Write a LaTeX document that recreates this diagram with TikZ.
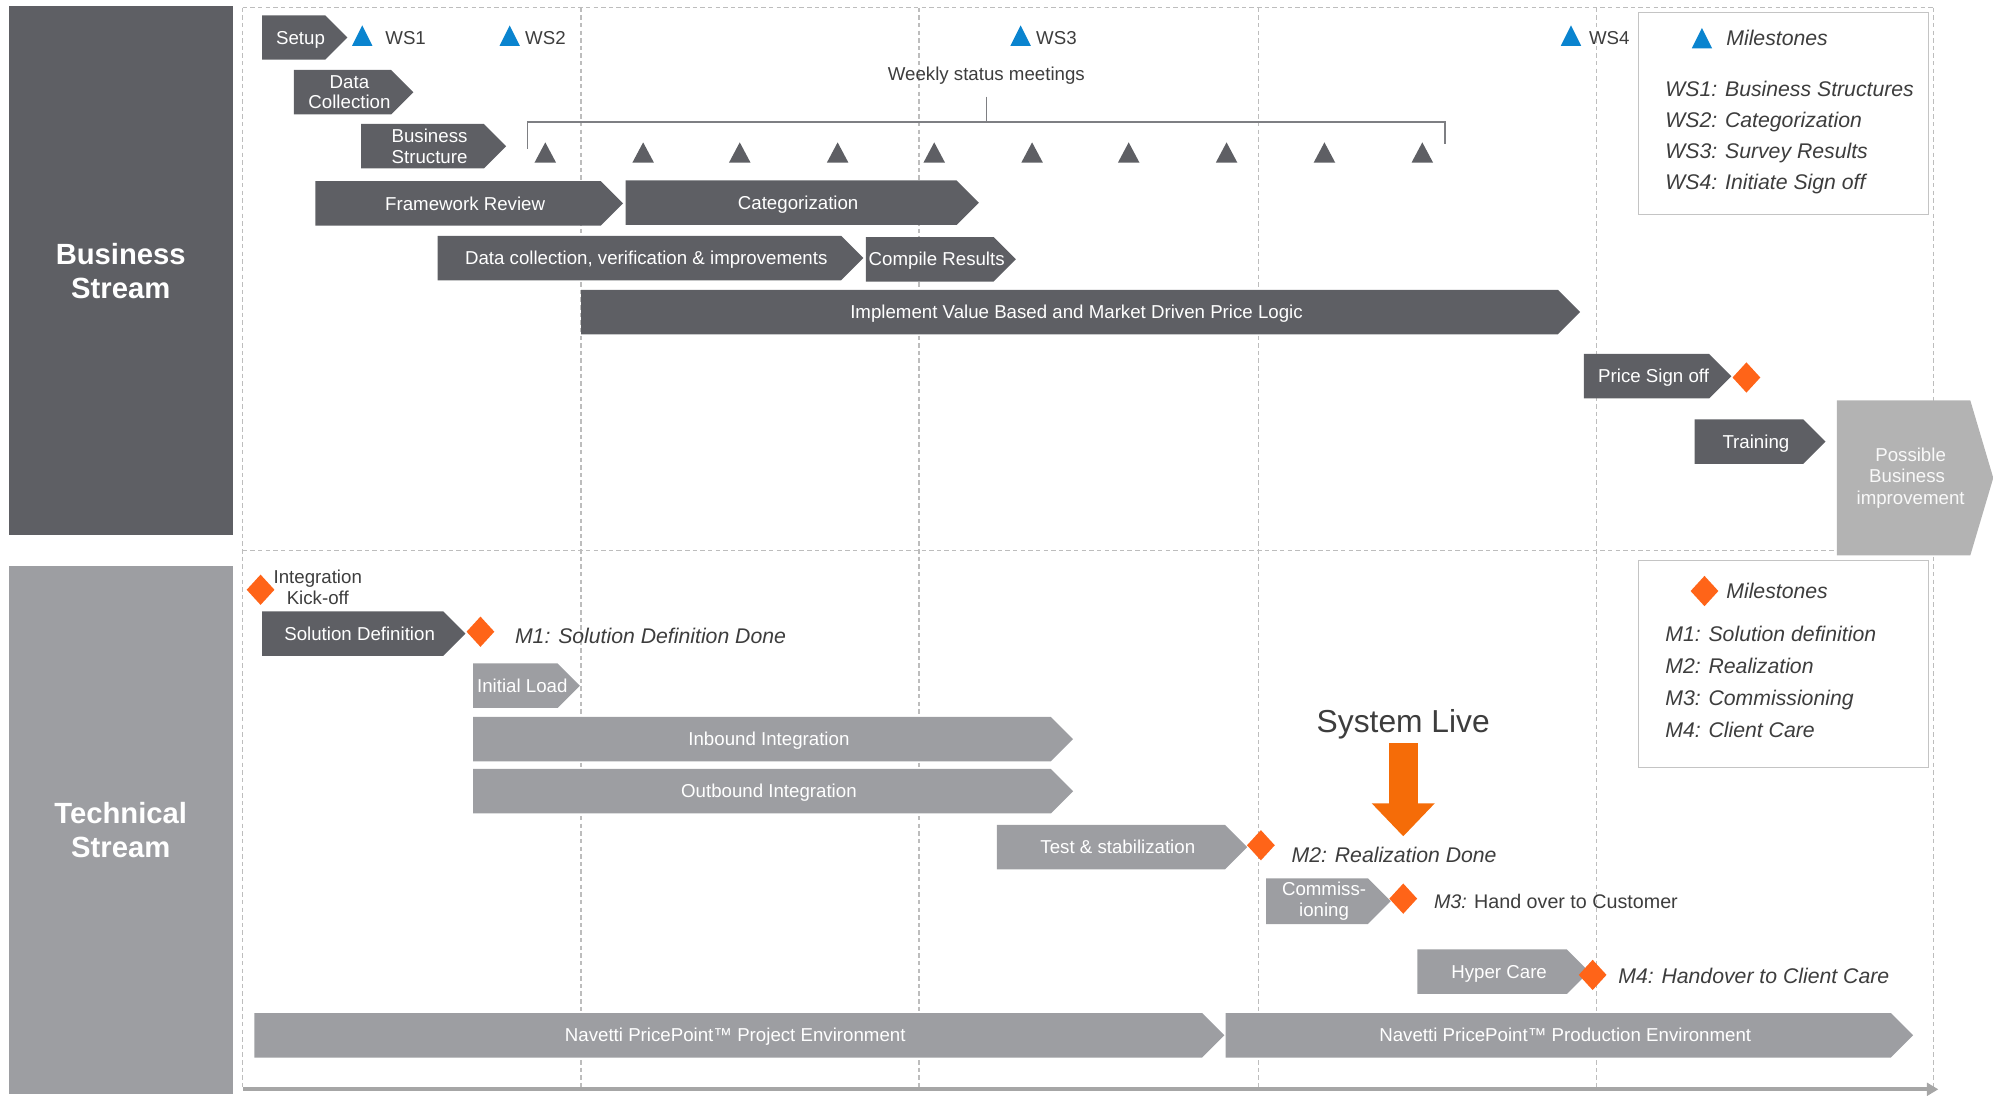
\documentclass[tikz,border=0pt]{standalone}
\usepackage{fontspec}
\setmainfont{Liberation Sans}
\usetikzlibrary{arrows.meta,shapes.symbols,shapes.geometric}
\definecolor{bardark}{HTML}{5E5F64}
\definecolor{barlight}{HTML}{9D9EA2}
\definecolor{possiblegray}{HTML}{B3B3B3}
\definecolor{wsblue}{HTML}{0A84CF}
\definecolor{msorange}{HTML}{FF6418}
\definecolor{liveorange}{HTML}{F56C08}
\definecolor{gridgray}{HTML}{BDBDBD}
\definecolor{boxgray}{HTML}{C4C4C4}
\definecolor{axisgray}{HTML}{A6A6A6}
\definecolor{inkgray}{HTML}{3D3D3D}
\newcommand\barfont{\fontsize{14.7}{16}\selectfont}
\newcommand\msfont{\fontsize{16.7}{20}\selectfont}
\newcommand\nudge[1]{\hspace*{5.5pt}#1\hspace*{-5.5pt}}
\tikzset{
  phase/.style={signal,signal to=east,signal pointer angle=90,inner sep=0pt,
    minimum height=35pt,anchor=west,align=center,text=white,font=\barfont},
  darkbar/.style={phase,fill=bardark},
  lightbar/.style={phase,fill=barlight},
  oneline/.style={text height=12.6pt,text depth=2.1pt},
  shifted/.style={oneline,execute at begin node={\hspace*{5.5pt}},execute at end node={\hspace*{-5.5pt}}},
  streambox/.style={rectangle,minimum width=176pt,minimum height=416pt,inner sep=0pt,
    text=white,align=center,font=\fontsize{23}{27}\selectfont\bfseries},
  grid/.style={draw=gridgray,line width=1pt,dash pattern=on 3.5pt off 2.5pt},
  axis/.style={draw=axisgray,line width=3pt,-{Triangle[length=9pt,width=10pt]}},
  bracket/.style={draw=bardark!80,line width=1.2pt},
  livearrow/.style={draw=liveorange,line width=23pt,-{Triangle[length=26pt,width=48pt]}},
  msdiamond/.style={diamond,fill=msorange,minimum width=22pt,minimum height=24pt,inner sep=0pt},
  wslabel/.style={anchor=west,inner sep=0pt,text=inkgray,font=\barfont,oneline},
  note/.style={inner sep=0pt,text=inkgray,font=\barfont,align=center},
  mstext/.style={anchor=west,inner sep=0pt,text=inkgray,font=\msfont\itshape,
    text height=14.3pt,text depth=2.4pt},
  legendhead/.style={mstext},
  legendtext/.style={mstext},
  legendbox/.style={rectangle,draw=boxgray,line width=1pt,fill=white,minimum width=228pt},
  wstri/.pic={\fill[wsblue] (-8,8) -- (8,8) -- (0,-8) -- cycle;},
  meettri/.pic={\fill[bardark] (-8.5,8) -- (8.5,8) -- (0,-8) -- cycle;},
}
\begin{document}
\begin{tikzpicture}[x=1pt,y=-1pt]
\useasboundingbox (0,0) rectangle (1568,862);
\node[streambox,fill=bardark] (business) at (95,213) {Business\\Stream};
\node[streambox,fill=barlight] (technical) at (95,653) {Technical\\Stream};
\foreach \x in {191,457,723,990,1256,1521}\draw[grid] (\x,6) -- (\x,857);
\draw[grid] (191,6) -- (1521,6);\draw[grid] (191,433) -- (1521,433);
\draw[axis] (191,857) -- (1525,857);
\node[legendbox,minimum height=159pt] (wslegend) at (1403,89.5) {};
\node[legendbox,minimum height=163pt] (mlegend) at (1403,522.5) {};
\pic at (1339,30) {wstri};\node[legendhead] (wshead) at (1358,30) {Milestones};
\foreach \t [count=\i] in {WS1: Business Structures,WS2: Categorization,WS3: Survey Results,WS4: Initiate Sign off}
  \node[legendtext] (wsitem\i) at (1310,45.5+24.4*\i) {\t};
\node[msdiamond] (mlegmark) at (1341,465) {};\node[legendhead] (mhead) at (1358,465) {Milestones};
\foreach \t [count=\i] in {M1: Solution definition,M2: Realization,M3: Commissioning,M4: Client Care}
  \node[legendtext] (mitem\i) at (1310,474+25*\i) {\t};
\node[darkbar,shifted,minimum width=67pt] (setup) at (206,29.5) {Setup};
\foreach \x/\lx/\l in {285/303/1,401/413/2,803/815/3,1236/1250/4}{
  \pic at (\x,28) {wstri};\node[wslabel] (ws\l) at (\lx,30) {WS\l};}
\node[darkbar,minimum width=94pt] (datacoll) at (231,72.5) {\nudge{Data}\\\nudge{Collection}};
\node[darkbar,minimum width=114pt] (busstruct) at (284,115) {\nudge{Business}\\\nudge{Structure}};
\node[note,oneline] (weekly) at (776,58) {Weekly status meetings};
\draw[bracket] (415,117) -- (415,96) -- (1137,96) -- (1137,113);\draw[bracket] (776,76) -- (776,96);
\foreach \x in {429,506,582,659,735,812,888,965,1042,1119}\pic at (\x,120) {meettri};
\node[darkbar,shifted,minimum width=242pt] (framework) at (248,160) {Framework Review};
\node[darkbar,shifted,minimum width=278pt] (categ) at (492,159.5) {Categorization};
\node[darkbar,shifted,minimum width=335pt] (datacheck) at (344,203) {Data collection, verification \& improvements};
\node[darkbar,shifted,inner xsep=-4pt,minimum width=118pt] (compile) at (681,204) {Compile Results};
\node[darkbar,shifted,minimum width=786pt] (implement) at (457,245.5) {Implement Value Based and Market Driven Price Logic};
\node[darkbar,shifted,minimum width=116pt] (signoff) at (1246,296) {Price Sign off};
\node[msdiamond] (signoffmark) at (1374,297) {};
\node[darkbar,shifted,minimum width=103pt] (training) at (1333,347.5) {Training};
\node[phase,fill=possiblegray,text=white!95!gray,signal pointer angle=147,minimum width=123pt,
  minimum height=122pt,font=\fontsize{14.7}{17}\selectfont] (possible) at (1445,376)
  {\nudge{Possible}\\\nudge{Business}\\\nudge{improvement}};
\node[msdiamond] (kickoff) at (205,464) {};
\node[note] (kicktext) at (250,462) {Integration\\Kick-off};
\node[darkbar,shifted,minimum width=160pt] (soldef) at (206,498.5) {Solution Definition};
\node[msdiamond] (m1) at (378,497) {};
\node[mstext] (m1text) at (405,500) {M1: Solution Definition Done};
\node[lightbar,shifted,inner xsep=-5pt,minimum width=84pt] (initload) at (372,539.5) {Initial Load};
\node[lightbar,shifted,minimum width=472pt] (inbound) at (372,581.5) {Inbound Integration};
\node[lightbar,shifted,minimum width=472pt] (outbound) at (372,622.5) {Outbound Integration};
\node[lightbar,shifted,minimum width=197pt] (teststab) at (784,666.5) {Test \& stabilization};
\node[msdiamond] (m2) at (992,665) {};
\node[mstext] (m2text) at (1016,673) {M2: Realization Done};
\node[inner sep=3pt,text=inkgray,font=\fontsize{25}{28}\selectfont] (live) at (1104,570) {System Live};
\coordinate (liveend) at (1104,658);
\draw[livearrow] (live.south) -- (liveend);
\node[lightbar,minimum width=98pt,minimum height=36pt] (commiss) at (996,709) {\nudge{Commiss-}\\\nudge{ioning}};
\node[msdiamond] (m3) at (1104,707) {};
\node[mstext,font=\fontsize{15.5}{18}\selectfont] (m3text) at (1128,709) {\textit{M3:} Hand over to Customer};
\node[lightbar,shifted,minimum width=135pt] (hypercare) at (1115,764.5) {Hyper Care};
\node[msdiamond] (m4) at (1253,767) {};
\node[mstext] (m4text) at (1273,768) {M4: Handover to Client Care};
\node[lightbar,shifted,minimum width=763pt] (projenv) at (200,814.5) {Navetti PricePoint™ Project Environment};
\node[lightbar,shifted,minimum width=541pt] (prodenv) at (964,814.5) {Navetti PricePoint™ Production Environment};
\end{tikzpicture}
\end{document}
